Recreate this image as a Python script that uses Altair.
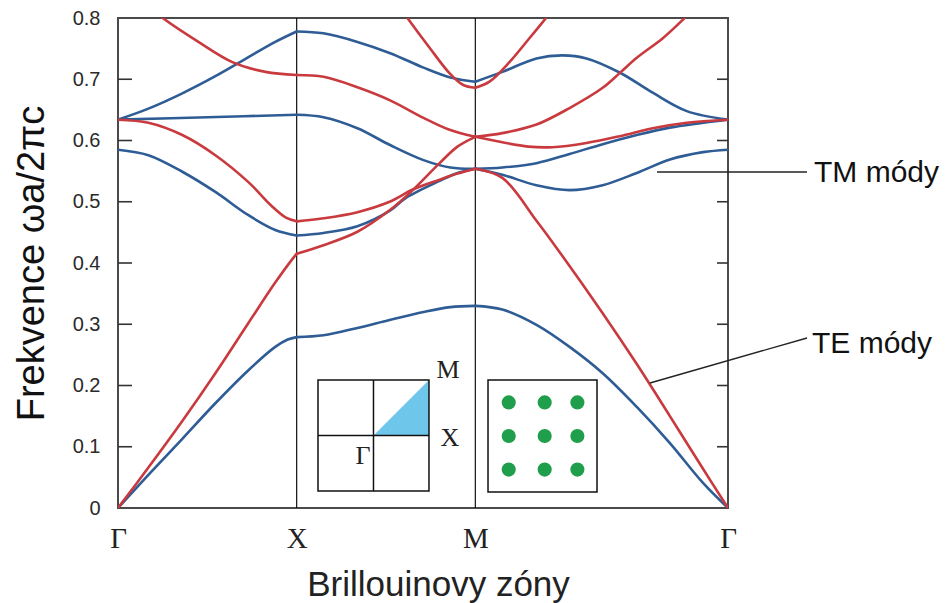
import altair as alt
import numpy as np
import pandas as pd

# Path through the Brillouin zone: Γ → X → M → Γ (lengths in units of 2π/a)
HALF_DIAG = np.sqrt(2) / 2
SEG_START = {"GX": 0.0, "XM": 0.5, "MG": 1.0}
SEG_LEN = {"GX": 0.5, "XM": 0.5, "MG": HALF_DIAG}
K_END = 1.0 + HALF_DIAG
KPOINT_POS = [0.0, 0.5, 1.0, K_END]
KPOINT_LABELS = ["Γ", "X", "M", "Γ"]

# Each band: per segment, (fraction along segment, normalised frequency ωa/2πc)
# TM modes
TM1 = {
    "GX": ([0, .17, .36, .545, .73, .88, .95, 1], [0, .054, .113, .171, .225, .263, .275, .279]),
    "XM": ([0, .15, .34, .52, .71, .86, 1], [.279, .282, .294, .307, .320, .328, .330]),
    "MG": ([0, .107, .242, .373, .504, .639, .77, .901, 1], [.330, .324, .299, .263, .220, .165, .106, .041, 0]),
}
TM2 = {
    "GX": ([0, .17, .36, .545, .73, .88, 1], [.585, .576, .549, .516, .478, .454, .445]),
    "XM": ([0, .15, .34, .52, .61, .8, .9, 1], [.445, .449, .460, .485, .506, .534, .547, .554]),
    "MG": ([0, .107, .242, .373, .504, .639, .77, .901, 1], [.554, .544, .527, .519, .527, .547, .569, .581, .585]),
}
TM3 = {
    "GX": ([0, .5, 1], [.634, .638, .642]),
    "XM": ([0, .15, .34, .52, .71, .86, 1], [.642, .638, .620, .593, .568, .556, .554]),
    "MG": ([0, .107, .242, .373, .504, .639, .77, 1], [.554, .556, .563, .578, .594, .609, .621, .634]),
}
TM4 = {
    "GX": ([0, .17, .36, .545, .73, .88, 1], [.634, .652, .677, .705, .736, .761, .778]),
    "XM": ([0, .15, .34, .52, .71, .86, 1], [.778, .775, .761, .743, .719, .703, .696]),
    "MG": ([0, .107, .242, .345, .44, .571, .702, .837, 1], [.696, .712, .734, .739, .734, .711, .678, .648, .634]),
}

# TE modes
TE1 = {
    "GX": ([0, .17, .36, .545, .73, .88, .98, 1], [0, .066, .142, .220, .302, .368, .408, .415]),
    "XM": ([0, .15, .34, .52, .65, .8, .9, 1], [.415, .429, .451, .486, .519, .563, .590, .606]),
    "MG": ([0, .107, .21, .305, .44, .571, .702, .837, 1], [.606, .597, .590, .589, .596, .607, .620, .629, .634]),
}
TE2 = {
    "GX": ([0, .17, .36, .545, .73, .86, .94, 1], [.634, .629, .609, .576, .532, .493, .474, .468]),
    "XM": ([0, .15, .34, .52, .65, .8, .9, 1], [.468, .473, .483, .500, .520, .536, .546, .554]),
    "MG": ([0, .107, .242, .321, .504, .639, .77, .901, 1], [.554, .539, .469, .425, .318, .235, .150, .064, 0]),
}
TE3 = {
    "GX": ([0, .1, .25, .45, .64, .825, 1], [.86, .835, .80, .761, .728, .712, .707]),
    "XM": ([0, .15, .34, .52, .71, .86, 1], [.707, .704, .687, .666, .637, .617, .606]),
    "MG": ([0, .107, .242, .373, .504, .571, .639, .742, .821, .9, 1],
           [.606, .612, .626, .653, .686, .710, .735, .767, .797, .83, .86]),
}
TE4 = {
    "XM": ([.5, .62, .745, .855, .93, 1], [.85, .80, .751, .710, .691, .686]),
    "MG": ([0, .056, .135, .214, .28, .36], [.686, .696, .728, .767, .80, .84]),
}

BANDS = [("TM", "TM1", TM1), ("TM", "TM2", TM2), ("TM", "TM3", TM3), ("TM", "TM4", TM4),
         ("TE", "TE1", TE1), ("TE", "TE2", TE2), ("TE", "TE3", TE3), ("TE", "TE4", TE4)]

rows = []
for pol, name, segs in BANDS:
    for seg, (ts, vs) in segs.items():
        for t, v in zip(ts, vs):
            rows.append({"pol": pol, "line": f"{name}-{seg}",
                         "k": SEG_START[seg] + SEG_LEN[seg] * t, "v": v})
bands = pd.DataFrame(rows)

BLUE = "#2e5c95"
RED = "#c93a3f"
INK = "#222222"

x_enc = alt.X(
    "k:Q",
    scale=alt.Scale(domain=[0, K_END], nice=False, zero=False),
    axis=alt.Axis(
        values=KPOINT_POS,
        labelExpr=("datum.value < 0.25 ? '%s' : datum.value < 0.75 ? '%s' : "
                   "datum.value < 1.25 ? '%s' : '%s'") % tuple(KPOINT_LABELS),
        labelFont="Liberation Serif", labelFontSize=29, labelColor=INK,
        labelBaseline="alphabetic", labelPadding=39, labelFlush=False, labelOverlap=False,
        ticks=False, tickSize=0, domain=False, grid=False,
        title="Brillouinovy zóny", titleFont="Liberation Sans", titleFontSize=35,
        titleFontWeight="normal", titleColor=INK, titleX=320, titleY=87,
        titleAlign="center", titleBaseline="alphabetic",
    ),
)
y_enc = alt.Y(
    "v:Q",
    scale=alt.Scale(domain=[0, 0.8], nice=False, zero=False),
    axis=alt.Axis(
        values=[0, 0.1, 0.2, 0.3, 0.4, 0.5, 0.6, 0.7, 0.8], format=".1~f",
        labelFont="Liberation Sans", labelFontSize=20, labelColor="#2a2a2a",
        labelPadding=18, labelFlush=False, labelOverlap=False,
        ticks=False, tickSize=0, domain=False, grid=False,
        title="Frekvence ωa/2πc", titleFont="Liberation Sans", titleFontSize=38,
        titleFontWeight="normal", titleColor="#111111", titleX=-75, titleY=245,
        titleAlign="center", titleBaseline="alphabetic", titleAngle=270,
    ),
)

# Vertical guides at the X and M points
kp = pd.DataFrame({"k": KPOINT_POS[1:3]})
kp_rules = alt.Chart(kp).mark_rule(color="#111111", strokeWidth=1.2).encode(x=x_enc)

# Inward tick marks on both sides of the frame
ticks_df = pd.DataFrame({"v": [0.1, 0.2, 0.3, 0.4, 0.5, 0.6, 0.7]})
left_ticks = alt.Chart(ticks_df).mark_rule(color="#333333", strokeWidth=1.6).encode(
    y=y_enc, x=alt.value(0), x2=alt.value(14))
right_ticks = alt.Chart(ticks_df).mark_rule(color="#333333", strokeWidth=1.6).encode(
    y=y_enc, x=alt.value(599), x2=alt.value(610))

band_lines = alt.Chart(bands).mark_line(
    interpolate="catmull-rom", strokeWidth=2.6, clip=True, strokeCap="round"
).encode(
    x=x_enc, y=y_enc, detail="line:N",
    color=alt.Color("pol:N", scale=alt.Scale(domain=["TM", "TE"], range=[BLUE, RED]), legend=None),
    order=alt.Order("k:Q"),
)

# Inset 1: first Brillouin zone with the irreducible wedge
ZK0, ZK1, ZV0, ZV1 = 0.5597, 0.8703, 0.0278, 0.2090
zk_mid, zv_mid = (ZK0 + ZK1) / 2, (ZV0 + ZV1) / 2
wedge = pd.DataFrame({"k": [zk_mid, ZK1], "v": [zv_mid, ZV1], "v2": [zv_mid, zv_mid]})
wedge_area = alt.Chart(wedge).mark_area(color="#6ec6ea", opacity=1).encode(
    x=x_enc, y=y_enc, y2="v2:Q")
zone_box = pd.DataFrame({"k": [ZK0], "k2": [ZK1], "v": [ZV0], "v2": [ZV1]})
zone_rect = alt.Chart(zone_box).mark_rect(fill=None, stroke="#111111", strokeWidth=1.5).encode(
    x=x_enc, x2="k2:Q", y=y_enc, y2="v2:Q")
zone_cross = pd.DataFrame({
    "k": [zk_mid, ZK0], "k2": [zk_mid, ZK1], "v": [ZV0, zv_mid], "v2": [ZV1, zv_mid]})
zone_lines = alt.Chart(zone_cross).mark_rule(color="#111111", strokeWidth=1.5).encode(
    x=x_enc, x2="k2:Q", y=y_enc, y2="v2:Q")
zone_text = pd.DataFrame({"k": [0.9235, 0.9291, 0.6857], "v": [0.2253, 0.1143, 0.0849],
                          "t": ["M", "X", "Γ"]})
zone_labels = alt.Chart(zone_text).mark_text(
    font="Liberation Serif", fontSize=26, color=INK, align="center", baseline="middle"
).encode(x=x_enc, y=y_enc, text="t:N")

# Inset 2: square lattice of dielectric rods
LK0, LK1, LV0, LV1 = 1.0355, 1.3405, 0.0261, 0.2090
lat_box = pd.DataFrame({"k": [LK0], "k2": [LK1], "v": [LV0], "v2": [LV1]})
lat_rect = alt.Chart(lat_box).mark_rect(fill=None, stroke="#111111", strokeWidth=1.5).encode(
    x=x_enc, x2="k2:Q", y=y_enc, y2="v2:Q")
fr_x = [0.19, 0.52, 0.82]
fr_y = [0.2, 0.5, 0.8]
rods = pd.DataFrame([{"k": LK0 + fx * (LK1 - LK0), "v": LV0 + fy * (LV1 - LV0)}
                     for fx in fr_x for fy in fr_y])
rod_points = alt.Chart(rods).mark_point(
    filled=True, shape="circle", size=200, color="#1f9e4b", opacity=1
).encode(x=x_enc, y=y_enc)

# Mode annotations
leaders = pd.DataFrame({"k": [1.5084, 1.4888], "v": [0.5486, 0.2041],
                        "k2": [1.9282, 1.9282], "v2": [0.5486, 0.2776]})
leader_lines = alt.Chart(leaders).mark_rule(color="#222222", strokeWidth=1.4).encode(
    x=x_enc, y=y_enc, x2="k2:Q", y2="v2:Q")
notes = pd.DataFrame({"k": [1.9478, 1.9422], "v": [0.5322, 0.2531], "t": ["TM módy", "TE módy"]})
note_text = alt.Chart(notes).mark_text(
    font="Liberation Sans", fontSize=30, color="#111111", align="left", baseline="alphabetic"
).encode(x=x_enc, y=y_enc, text="t:N")

chart = alt.layer(
    kp_rules, left_ticks, right_ticks, band_lines,
    wedge_area, zone_rect, zone_lines, zone_labels, lat_rect, rod_points,
    leader_lines, note_text,
).properties(
    width=610, height=490,
    autosize=alt.AutoSizeParams(type="none"),
    padding={"left": 118, "top": 18, "right": 223, "bottom": 95},
    background="white",
).configure_view(stroke="#4a4a4a", strokeWidth=2)

chart.save("out.html", embed_options={"renderer": "svg", "actions": False})
